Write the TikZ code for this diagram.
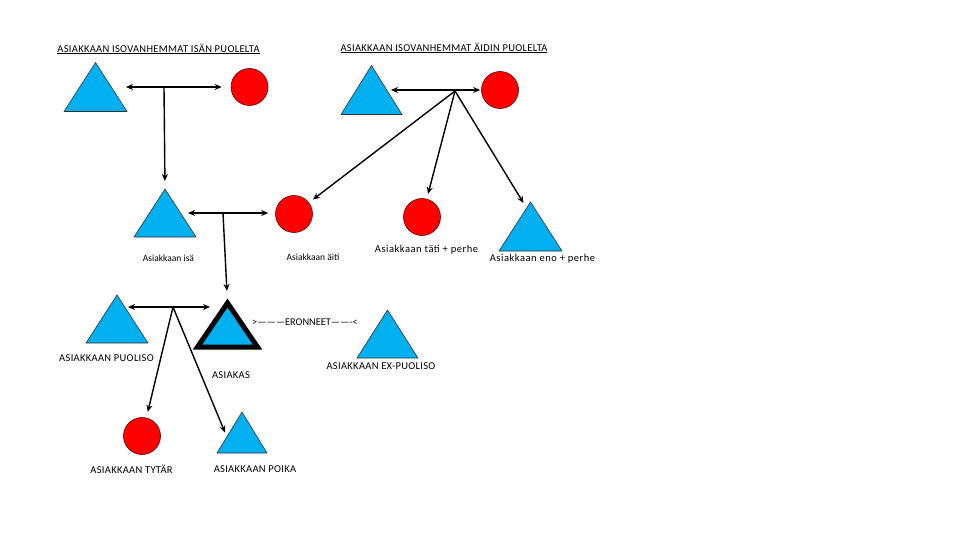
\documentclass[tikz,border=0pt]{standalone}
\usepackage{fontspec}
\setmainfont{Carlito}
\newfontfamily\capsfont[LetterSpace=3]{Carlito}
\newfontfamily\widefont[LetterSpace=5]{Carlito}
\usetikzlibrary{arrows.meta,calc}
\definecolor{tblue}{RGB}{0,176,240}
\definecolor{cred}{RGB}{255,0,0}
\begin{document}
\begin{tikzpicture}[x=1pt,y=-1pt,
  font=\fontsize{9.5}{11}\selectfont,
  tribox/.style n args={2}{minimum width=#1pt, minimum height=#2pt, inner sep=0pt, outer sep=0pt},
  tri/.style={fill=tblue, draw=black!80, line width=0.6pt, line join=round},
  clientri/.style={fill=tblue, draw=black, line width=5pt, line join=miter},
  circ/.style={circle, fill=cred, draw=red!40!black, line width=0.6pt, minimum size=37pt, inner sep=0pt},
  link/.style={line width=1.4pt, -{Stealth[length=7pt,width=6pt]}},
  duo/.style={line width=1.4pt, {Stealth[length=7pt,width=6pt]}-{Stealth[length=7pt,width=6pt]}},
  lbl/.style={inner sep=0pt},
  caplbl/.style={inner sep=0pt, font=\capsfont\fontsize{10.5}{12}\selectfont},
  widelbl/.style={inner sep=0pt, font=\widefont\fontsize{10.5}{12}\selectfont},
  divlbl/.style={inner sep=0pt, font=\fontsize{10.3}{12}\selectfont}]
\fill[white] (0,0) rectangle (960,540);
\useasboundingbox (0,0) rectangle (960,540);

% triangle boxes
\node[tribox={63}{49}] (t1) at (95.5,87) {};
\node[tribox={62}{48}] (t2) at (165,213) {};
\node[tribox={61}{49}] (t3) at (371.5,90) {};
\node[tribox={63}{49}] (t4) at (530.5,226.5) {};
\node[tribox={62}{48}] (t5) at (117,319) {};
\node[tribox={60}{44}] (as) at (227.5,325) {};
\node[tribox={61}{48}] (t7) at (387.5,334) {};
\node[tribox={50}{41}] (t6) at (242,432.5) {};
\foreach \n in {t1,t2,t3,t4,t5,t7,t6}
  \draw[tri] (\n.north) -- (\n.south east) -- (\n.south west) -- cycle;
\draw[clientri] (as.north) -- (as.south east) -- (as.south west) -- cycle;

% circles
\node[circ] (c1) at (249.5,87) {};
\node[circ] (c2) at (294,214) {};
\node[circ] (c3) at (500,90) {};
\node[circ] (c4) at (422,217) {};
\node[circ] (c5) at (142,436) {};

% labels
\node[caplbl] (hd1) at (158.5,49) {\underline{ASIAKKAAN ISOVANHEMMAT ISÄN PUOLELTA}};
\node[caplbl] (hd2) at (444,48) {\underline{ASIAKKAAN ISOVANHEMMAT ÄIDIN PUOLELTA}};
\node[lbl] (l1) at (168.5,258) {Asiakkaan isä};
\node[lbl] (l2) at (313,257) {Asiakkaan äiti};
\node[widelbl] (l3) at (426.5,250) {Asiakkaan täti + perhe};
\node[widelbl] (l4) at (542.5,259) {Asiakkaan eno + perhe};
\node[caplbl] (l5) at (106.5,358) {ASIAKKAAN PUOLISO};
\node[caplbl] (l6) at (231,375) {ASIAKAS};
\node[divlbl] (l7) at (305,322) {>———ERONNEET——-<};
\node[caplbl] (l8) at (381,366) {ASIAKKAAN EX-PUOLISO};
\node[caplbl] (l9) at (131.5,469) {ASIAKKAAN TYTÄR};
\node[caplbl] (l10) at (255,469) {ASIAKKAAN POIKA};

% hubs
\coordinate (h1) at (164,87);
\coordinate (h2) at (223,213);
\coordinate (h3) at (455,91);
\coordinate (h4) at (173,307);

% connectors
\draw[duo] ($(t1.east)+(-1,0)$) -- ($(c1.west)+(-9,0)$);
\draw[link, shorten >=8pt] (h1) -- (t2.north);
\draw[duo] ($(t2.east)+(-8,0)$) -- ($(c2.west)+(-7,-1)$);
\draw[link, shorten >=12pt] (h2) -- (as.north);
\draw[duo] ($(t3.east)+(-11,0)$) -- ($(c3.west)+(-1,0)$);
\draw[link, shorten >=5pt] (h3) -- (c2);
\draw[link, shorten >=5pt] (h3) -- (c4);
\draw[link] (h3) -- ($(t4.north)+(-7,1)$);
\draw[duo] ($(t5.east)+(-20,-12)$) -- ($(as.west)+(12.5,-18)$);
\draw[link, shorten >=6pt] (h4) -- (c5);
\draw[link] (h4) -- ($(t6.west)+(8,0)$);
\end{tikzpicture}
\end{document}
